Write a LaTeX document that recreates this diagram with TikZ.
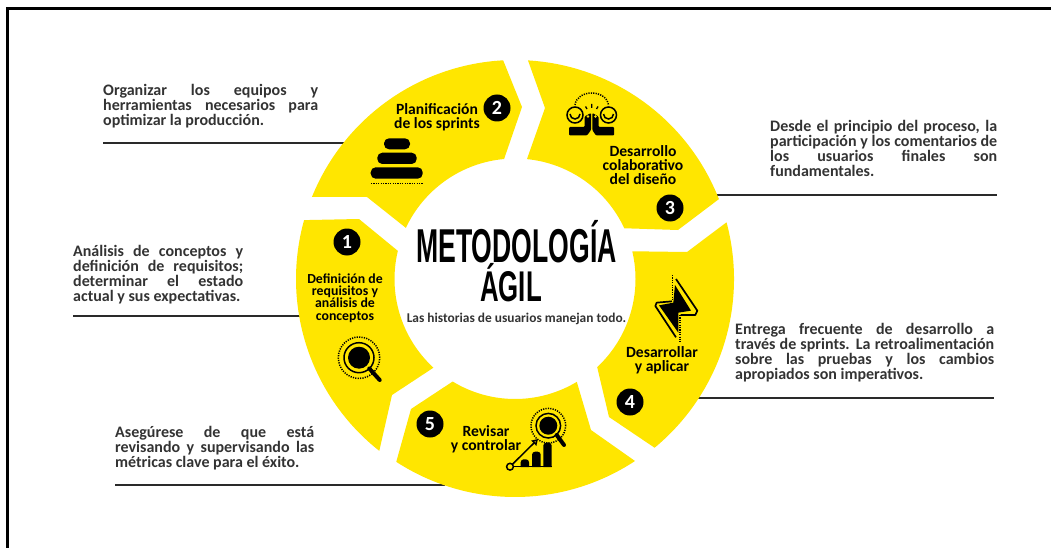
\documentclass[tikz,border=0pt]{standalone}
\usepackage{graphicx}
\usepackage{fontspec}
\setmainfont{Carlito}
\newfontfamily\titlefont{Liberation Sans}
\usetikzlibrary{arrows.meta}
\definecolor{segy}{HTML}{FFE600}
\definecolor{ink}{HTML}{333333}
\definecolor{rule}{HTML}{2A2A2A}
\newcommand{\jl}[2]{\makebox[#1pt][s]{#2}}
\newcommand{\seg}[1]{\fill[segy] #1 -- cycle;}
\tikzset{
  connector/.style={draw=rule,line width=2pt},
  para/.style={inner sep=0pt,anchor=north west,align=left,text=ink,font=\fontsize{16}{15}\selectfont\bfseries},
  seglabel/.style={inner sep=0pt,align=center,text=black,font=\fontsize{15.6}{14.2}\selectfont\bfseries},
  numdot/.style={circle,fill=black,text=white,minimum size=27pt,inner sep=0pt,font=\fontsize{20}{20}\selectfont\bfseries},
  dots/.style={line width=1.5pt,dash pattern=on 1.2pt off 1.2pt},
  handle/.style={black,line width=4pt,line cap=round}
}
\begin{document}
\begin{tikzpicture}[x=1pt,y=1pt]
\useasboundingbox (0,0) rectangle (1051,-548);
\fill[white] (0,0) rectangle (1051,-548);
\draw[black,line width=2.6pt] (7.5,-548) -- (7.5,-8.5) -- (1051,-8.5);
\coordinate (C) at (515,-279);
% connector end points
\coordinate (l2a) at (103,-143.5); \coordinate (l2b) at (345,-143.5);
\coordinate (l1a) at (73,-316);    \coordinate (l1b) at (302,-316);
\coordinate (l5a) at (115,-484.5); \coordinate (l5b) at (445,-484.5);
\coordinate (l3a) at (717,-194.5); \coordinate (l3b) at (997,-194.5);
\coordinate (l4a) at (697,-397.5); \coordinate (l4b) at (994,-397.5);
\foreach \a/\b in {l2a/l2b,l1a/l1b,l5a/l5b,l3a/l3b,l4a/l4b} \draw[connector] (\a) -- (\b);
% segments
\seg{([shift={(158:219pt)}]C) arc[start angle=158,end angle=93.1,radius=219pt] -- (522,-107) -- ([shift={(95.2:120.5pt)}]C) arc[start angle=95.2,end angle=154.9,radius=120.5pt] -- (367,-197)}
\seg{([shift={(86.6:219pt)}]C) arc[start angle=86.6,end angle=21.4,radius=219pt] -- (678,-230) -- ([shift={(24.9:120.5pt)}]C) arc[start angle=24.9,end angle=84.3,radius=120.5pt] -- (545,-108)}
\seg{([shift={(15:219pt)}]C) arc[start angle=15,end angle=-50.4,radius=219pt] -- (609,-417) -- ([shift={(-47:120.5pt)}]C) arc[start angle=-47,end angle=13.3,radius=120.5pt] -- (687,-252)}
\seg{([shift={(-56.6:218pt)}]C) arc[start angle=-56.6,end angle=-123,radius=218pt] -- (411,-409) -- ([shift={(238.7:120pt)}]C) arc[start angle=238.7,end angle=301,radius=120pt] -- (591,-430)}
\seg{([shift={(164.4:219pt)}]C) arc[start angle=164.4,end angle=231.7,radius=219pt] -- (392,-395) -- ([shift={(227.4:120.5pt)}]C) arc[start angle=227.4,end angle=166.5,radius=120.5pt] -- (359,-219)}
% number dots
\node[numdot] (n1) at (347,-242) {1};
\node[numdot] (n2) at (497,-108) {2};
\node[numdot] (n3) at (670,-208) {3};
\node[numdot] (n4) at (630,-402) {4};
\node[numdot] (n5) at (430,-424) {5};
% segment labels
\node[seglabel,font=\fontsize{13.8}{12.4}\selectfont\bfseries] (s1) at (345,-298) {Definición de\\requisitos y\\análisis de\\conceptos};
\node[seglabel] (s2) at (437,-117) {Planificación\\de los sprints};
\node[seglabel] (s3) at (643,-165) {Desarrollo\\colaborativo\\del diseño};
\node[seglabel] (s4) at (662,-360) {Desarrollar\\y aplicar};
\node[seglabel] (s5) at (486,-439) {Revisar\\y controlar};
% centre
\node[inner sep=0pt,anchor=base] (t1) at (516.5,-262) {\scalebox{0.56}[1]{\titlefont\fontsize{47.5}{47.5}\selectfont\bfseries METODOLOGÍA}};
\node[inner sep=0pt,anchor=base] (t2) at (511,-301) {\scalebox{0.6}[1]{\titlefont\fontsize{43}{43}\selectfont\bfseries ÁGIL}};
\node[inner sep=0pt,anchor=base,text=ink,font=\fontsize{13.4}{13}\selectfont\bfseries] (t3) at (516.5,-322) {Las historias de usuarios manejan todo.};
% paragraphs
\node[para] (p2) at (103,-84) {\jl{215}{Organizar los equipos y}\\\jl{215}{herramientas necesarios para}\\optimizar la producción.};
\node[para] (p1) at (73,-245.5) {\jl{170}{Análisis de conceptos y}\\\jl{170}{definición de requisitos;}\\\jl{170}{determinar el estado}\\actual y sus expectativas.};
\node[para] (p5) at (115,-426.5) {\jl{199}{Asegúrese de que está}\\\jl{199}{revisando y supervisando las}\\métricas clave para el éxito.};
\node[para] (p3) at (770,-120) {\jl{227}{Desde el principio del proceso, la}\\\jl{227}{participación y los comentarios de}\\\jl{227}{los usuarios finales son}\\fundamentales.};
\node[para] (p4) at (735,-323.5) {\jl{259}{Entrega frecuente de desarrollo a}\\\jl{259}{través de sprints. La retroalimentación}\\\jl{259}{sobre las pruebas y los cambios}\\apropiados son imperativos.};
% icon: stack
\foreach \xa/\xb/\ya/\yb in {384/410/138.3/149.3,377.3/416.7/152.7/164,370.7/422.7/167.3/178.7}
  \fill[black,rounded corners=5pt] (\xa,-\ya) rectangle (\xb,-\yb);
\draw[black,dots] (371,-183.5) -- (423,-183.5);
% icon: handshake
\foreach \cx in {575,608.5}{
  \draw[black,line width=1.5pt] (\cx,-115) circle[radius=8pt];
  \draw[black,line width=1.5pt] (\cx-5,-114) arc[start angle=180,end angle=360,radius=5pt];
}
\draw[black,dots] (575,-105) .. controls (577,-89) and (606,-89) .. (608.5,-105);
\draw[black,line width=1.3pt] (587,-109) -- (585.5,-106.5) (591.7,-108) -- (591.7,-104) (596.5,-109) -- (598,-106.5);
\fill[black,rounded corners=1pt] (569,-127) -- (584.5,-127) -- (584.5,-116.5) -- (591,-113) -- (591,-130) -- (587,-135.5) -- (569,-135.5) -- cycle;
\fill[black,rounded corners=1pt] (614,-127) -- (598.5,-127) -- (598.5,-116.5) -- (592.3,-113) -- (592.3,-130) -- (596,-135.5) -- (614,-135.5) -- cycle;
\fill[segy] (588,-116.5) circle[radius=1.3pt] (595.5,-116.5) circle[radius=1.3pt];
% icon: bolt
\begin{scope}[shift={(590,-220)},x=0.3333pt,y=-0.3333pt]
\fill[black] (255,195) -- (303,272) -- (265,278) -- (265,338) -- (207,256) -- (250,248) -- cycle;
\draw[black,line width=1.7pt,line join=round] (258,177) -- (322,272) -- (316,285) -- (272,285);
\draw[black,line width=1.7pt,line join=round] (246,244) -- (200,248) -- (196,258) -- (258,352);
\draw[black,dots] (248,165) -- (248,243);
\draw[black,dots] (270,285) -- (270,365);
\end{scope}
% icon: magnifier 1
\draw[black,dots] (359,-357.7) circle[radius=20.7pt];
\draw[black,line width=1.5pt] (359,-357.7) circle[radius=15pt];
\fill[black] (359,-357.7) circle[radius=11pt];
\draw[handle] (369.3,-368.5) -- (379.7,-380);
% icon: magnifier 5 and bars
\draw[black,dots] (548.3,-425.7) circle[radius=17.3pt];
\draw[black,line width=1.5pt] (548.3,-425.7) circle[radius=12.3pt];
\fill[black] (548.3,-425.7) circle[radius=9pt];
\draw[handle] (556.7,-435) -- (564,-445);
\foreach \xa/\xb/\yt in {520.7/529/459.3,532/540.7/451.7,543.3/551.7/442.7}
  \fill[black] (\xa,-467) [rounded corners=3pt] -- (\xa,-\yt) -- (\xb,-\yt) [sharp corners] -- (\xb,-467) -- cycle;
\draw[black,line width=1.5pt] (510,-466.7) -- (552,-466.7);
\draw[black,line width=1.5pt,-{Triangle[open,length=6pt,width=7pt]}] (510,-466.7) -- (538,-439);
\filldraw[draw=black,fill=segy,line width=1.5pt] (510,-466.7) circle[radius=3.4pt];
\end{tikzpicture}
\end{document}
